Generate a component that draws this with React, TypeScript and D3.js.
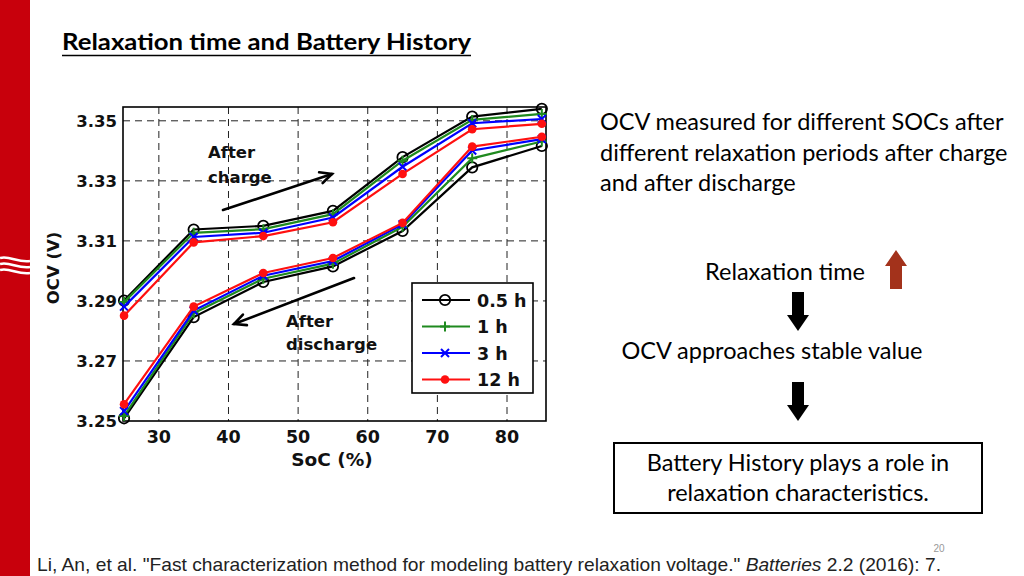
import React from "react";
import * as d3 from "d3";

const socValues = [25, 35, 45, 55, 65, 75, 85];
const xTicks = [30, 40, 50, 60, 70, 80];
const yTicks = [3.25, 3.27, 3.29, 3.31, 3.33, 3.35];

const seriesNames = ["0.5 h", "1 h", "3 h", "12 h"];
const seriesColors = ["#000000", "#1f8a1f", "#0000ff", "#ff1010"];
const seriesMarkers = ["circle", "plus", "cross", "dot"];

const charge05 = [3.2901, 3.3138, 3.315, 3.32, 3.3379, 3.3514, 3.354];
const charge1 = [3.2896, 3.3127, 3.3139, 3.3189, 3.3367, 3.3503, 3.3523];
const charge3 = [3.2881, 3.3113, 3.3127, 3.3178, 3.3347, 3.3492, 3.3506];
const charge12 = [3.2851, 3.3095, 3.3116, 3.3162, 3.3323, 3.3472, 3.349];

const discharge05 = [3.2509, 3.2846, 3.2963, 3.3015, 3.3133, 3.3345, 3.3416];
const discharge1 = [3.2517, 3.2859, 3.2974, 3.3024, 3.3147, 3.3375, 3.3431];
const discharge3 = [3.2533, 3.2868, 3.2984, 3.3033, 3.3155, 3.3401, 3.3439];
const discharge12 = [3.2556, 3.2881, 3.2993, 3.3043, 3.316, 3.3414, 3.3447];

const chargeSeries = [charge05, charge1, charge3, charge12];
const dischargeSeries = [discharge05, discharge1, discharge3, discharge12];

const PL = 123, PR = 546, PT = 107, PB = 421;

const x = d3.scaleLinear().domain([24.85, 85.6]).range([PL, PR]);
const y = d3.scaleLinear().domain([3.25, 3.3546]).range([PB, PT]);

function Marker({ kind, cx, cy, color }: { kind: string; cx: number; cy: number; color: string }) {
  if (kind === "circle")
    return <circle cx={cx} cy={cy} r={5.2} fill="none" stroke={color} strokeWidth={1.8} />;
  if (kind === "plus")
    return (
      <path d={`M${cx - 5},${cy}H${cx + 5}M${cx},${cy - 5}V${cy + 5}`} stroke={color} strokeWidth={2} />
    );
  if (kind === "cross")
    return (
      <path
        d={`M${cx - 4},${cy - 4}L${cx + 4},${cy + 4}M${cx - 4},${cy + 4}L${cx + 4},${cy - 4}`}
        stroke={color}
        strokeWidth={2}
      />
    );
  return <circle cx={cx} cy={cy} r={4.3} fill={color} />;
}

function Series({ values, i }: { values: number[]; i: number }) {
  const line = d3
    .line<number>()
    .x((_, k) => x(socValues[k]))
    .y((v) => y(v));
  return (
    <g>
      <path d={line(values) || ""} fill="none" stroke={seriesColors[i]} strokeWidth={2.2} />
      {values.map((v, k) => (
        <Marker key={k} kind={seriesMarkers[i]} cx={x(socValues[k])} cy={y(v)} color={seriesColors[i]} />
      ))}
    </g>
  );
}

function Arrow({ x1, y1, x2, y2 }: { x1: number; y1: number; x2: number; y2: number }) {
  const ang = Math.atan2(y2 - y1, x2 - x1);
  const L = 13, spread = 0.45;
  const ax = x2 - L * Math.cos(ang - spread), ay = y2 - L * Math.sin(ang - spread);
  const bx = x2 - L * Math.cos(ang + spread), by = y2 - L * Math.sin(ang + spread);
  return (
    <g stroke="#000" strokeWidth={2.6} fill="none" strokeLinecap="round">
      <line x1={x1} y1={y1} x2={x2} y2={y2} />
      <path d={`M${ax},${ay}L${x2},${y2}L${bx},${by}`} />
    </g>
  );
}

function BlockArrow({ cx, top, bottom, down, color }: { cx: number; top: number; bottom: number; down: boolean; color: string }) {
  const sw = 6, hw = 11, hh = 16;
  const d = down
    ? `M${cx - sw},${top}H${cx + sw}V${bottom - hh}H${cx + hw}L${cx},${bottom}L${cx - hw},${bottom - hh}H${cx - sw}Z`
    : `M${cx - sw},${bottom}H${cx + sw}V${top + hh}H${cx + hw}L${cx},${top}L${cx - hw},${top + hh}H${cx - sw}Z`;
  return <path d={d} fill={color} />;
}

const slideFont = "Lato, 'Open Sans', sans-serif";
const chartFont = "'DejaVu Sans', sans-serif";
const footFont = "'Liberation Sans', Arial, sans-serif";
const slideSize = 23.5;

export default function App() {
  const legendRows = [300, 326.5, 353, 379.5];
  return (
    <svg width={1024} height={576} style={{ position: "absolute", left: 0, top: 0, background: "#fff" }}>
      <rect x={0} y={0} width={1024} height={576} fill="#fff" />
      {/* left red bar */}
      <rect x={0} y={0} width={30} height={576} fill="#c8000c" />
      {[260, 266, 272].map((yy, i) => (
        <path
          key={i}
          d={`M0,${yy - 2} C9,${yy - 5} 18,${yy + 3} 30,${yy + 1}`}
          stroke="#fff"
          strokeWidth={2.6}
          fill="none"
        />
      ))}

      {/* title */}
      <text
        x={62}
        y={50}
        fontFamily={slideFont}
        fontWeight="bold"
        fontSize={23}
        fill="#000"
        textLength={409}
        lengthAdjust="spacingAndGlyphs"
      >
        Relaxation time and Battery History
      </text>
      <line x1={62} x2={471} y1={55.5} y2={55.5} stroke="#000" strokeWidth={1.6} />

      {/* chart */}
      <g>
        {yTicks
          .filter((t) => t > 3.25)
          .map((t) => (
            <line key={t} x1={PL} x2={PR} y1={y(t)} y2={y(t)} stroke="#222" strokeWidth={1} strokeDasharray="7,5" />
          ))}
        {xTicks.map((t) => (
          <line key={t} x1={x(t)} x2={x(t)} y1={PT} y2={PB} stroke="#222" strokeWidth={1} strokeDasharray="7,5" />
        ))}
        <rect x={PL} y={PT} width={PR - PL} height={PB - PT} fill="none" stroke="#000" strokeWidth={1.6} />
        {yTicks.map((t) => (
          <text
            key={t}
            x={117}
            y={y(t) + 6.3}
            textAnchor="end"
            fontFamily={chartFont}
            fontWeight="bold"
            fontSize={16.5}
            fill="#111"
          >
            {t.toFixed(2)}
          </text>
        ))}
        {xTicks.map((t) => (
          <text
            key={t}
            x={x(t)}
            y={443}
            textAnchor="middle"
            fontFamily={chartFont}
            fontWeight="bold"
            fontSize={17.5}
            fill="#111"
          >
            {t}
          </text>
        ))}
        <text x={332} y={466} textAnchor="middle" fontFamily={chartFont} fontWeight="bold" fontSize={18.5} fill="#111">
          SoC (%)
        </text>
        <text
          transform="translate(59,268) rotate(-90)"
          textAnchor="middle"
          fontFamily={chartFont}
          fontWeight="bold"
          fontSize={16.5}
          fill="#111"
        >
          OCV (V)
        </text>

        {chargeSeries.map((s, i) => (
          <Series key={"c" + i} values={s} i={i} />
        ))}
        {dischargeSeries.map((s, i) => (
          <Series key={"d" + i} values={s} i={i} />
        ))}

        {/* annotations */}
        <text fontFamily={chartFont} fontWeight="bold" fontSize={16.5} fill="#111">
          <tspan x={208} y={158}>After</tspan>
          <tspan x={208} y={183}>charge</tspan>
        </text>
        <text fontFamily={chartFont} fontWeight="bold" fontSize={16.5} fill="#111">
          <tspan x={286} y={327}>After</tspan>
          <tspan x={286} y={350}>discharge</tspan>
        </text>
        <Arrow x1={223} y1={210} x2={332} y2={174} />
        <Arrow x1={354} y1={278} x2={234} y2={324} />

        {/* legend */}
        <rect x={412} y={283} width={121} height={110} fill="#fff" stroke="#000" strokeWidth={1.6} />
        {seriesNames.map((n, i) => (
          <g key={n}>
            <line x1={422} x2={470} y1={legendRows[i]} y2={legendRows[i]} stroke={seriesColors[i]} strokeWidth={2.2} />
            <Marker kind={seriesMarkers[i]} cx={445} cy={legendRows[i]} color={seriesColors[i]} />
            <text
              x={477}
              y={legendRows[i] + 6.5}
              fontFamily={chartFont}
              fontWeight="bold"
              fontSize={17.5}
              fill="#111"
            >
              {n}
            </text>
          </g>
        ))}
      </g>

      {/* right side text */}
      <text fontFamily={slideFont} fontSize={slideSize} fill="#000">
        <tspan x={600} y={130}>OCV measured for different SOCs after</tspan>
        <tspan x={600} y={161}>different relaxation periods after charge</tspan>
        <tspan x={600} y={191}>and after discharge</tspan>
      </text>
      <text x={785} y={280} textAnchor="middle" fontFamily={slideFont} fontSize={slideSize} fill="#000">
        Relaxation time
      </text>
      <BlockArrow cx={896} top={250} bottom={289} down={false} color="#a3321b" />
      <BlockArrow cx={798} top={292} bottom={331} down={true} color="#000" />
      <text x={772} y={359} textAnchor="middle" fontFamily={slideFont} fontSize={slideSize} fill="#000">
        OCV approaches stable value
      </text>
      <BlockArrow cx={798} top={382} bottom={421} down={true} color="#000" />
      <rect x={614} y={443} width={368} height={70} fill="#fff" stroke="#000" strokeWidth={2} />
      <text textAnchor="middle" fontFamily={slideFont} fontSize={slideSize} fill="#000">
        <tspan x={798} y={471}>Battery History plays a role in</tspan>
        <tspan x={798} y={501}>relaxation characteristics.</tspan>
      </text>

      {/* footer */}
      <text x={37} y={571} fontFamily={footFont} fontSize={19} fill="#222" textLength={904} lengthAdjust="spacingAndGlyphs">
        Li, An, et al. "Fast characterization method for modeling battery relaxation voltage."{" "}
        <tspan fontStyle="italic">Batteries</tspan> 2.2 (2016): 7.
      </text>
      <text x={939} y={552} textAnchor="middle" fontFamily={footFont} fontSize={10} fill="#999">
        20
      </text>
    </svg>
  );
}
